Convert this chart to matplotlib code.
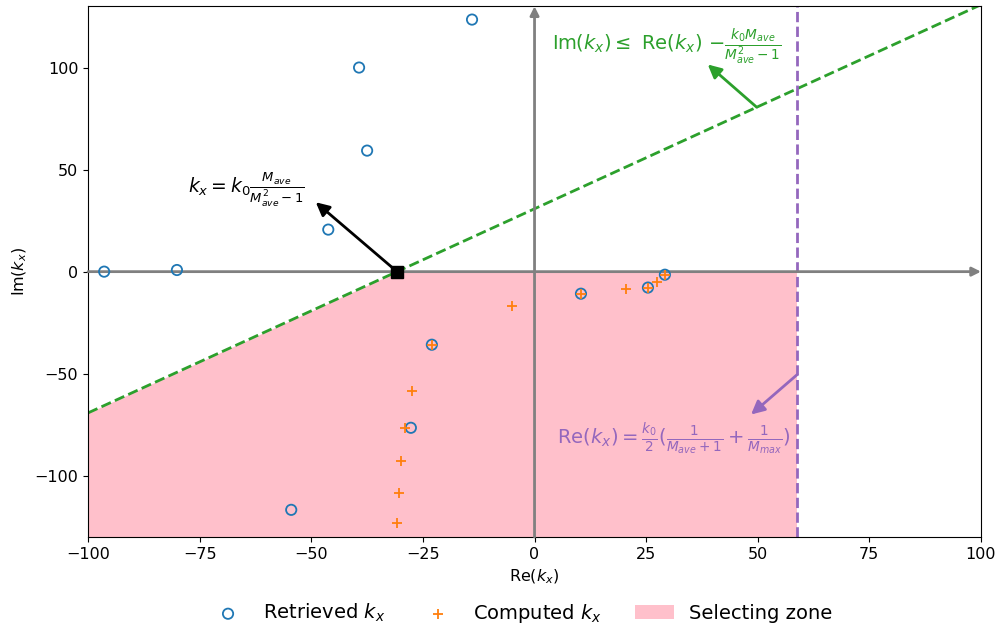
import matplotlib
matplotlib.use("Agg")
import matplotlib.pyplot as plt
import numpy as np

# retrieved kx (circles)
ret_re = [-96.4, -80.1, -46.2, -37.5, -39.3, -14.0, -54.5, -27.7, -23.0, 10.4, 25.4, 29.2]
ret_im = [0.0, 0.8, 20.6, 59.3, 100.0, 123.5, -116.7, -76.5, -35.8, -10.8, -7.8, -1.5]
# computed kx (pluses)
comp_re = [-23.0, -5.0, 10.4, 20.5, 25.4, 27.4, 29.2, -27.4, -29.0, -29.9, -30.3, -30.8]
comp_im = [-35.8, -16.7, -10.8, -8.3, -7.8, -4.9, -1.5, -58.3, -76.5, -92.6, -108.3, -123.0]

k_pole = -30.8      # k0*Mave/(Mave^2-1)
re_limit = 58.8     # k0/2*(1/(Mave+1)+1/Mmax)
xlim = (-100, 100)
ylim = (-130, 130)
xticks = [-100, -75, -50, -25, 0, 25, 50, 75, 100]
yticks = [-100, -50, 0, 50, 100]

fig = plt.figure(figsize=(10.01, 6.31), dpi=100)
ax = fig.add_axes([0.088, 0.149, 0.892, 0.841])

# selecting zone
xa = np.array([xlim[0], k_pole])
ax.fill_between(xa, ylim[0], xa - k_pole, color='pink', lw=0, label='Selecting zone')
xb = np.array([k_pole, re_limit])
ax.fill_between(xb, ylim[0], 0, color='pink', lw=0)

# axes arrows
ax.annotate('', xy=(xlim[1], 0), xytext=(xlim[0], 0),
            arrowprops=dict(arrowstyle='-|>', color='gray', lw=2, mutation_scale=13,
                            shrinkA=0, shrinkB=0))
ax.annotate('', xy=(0, ylim[1]), xytext=(0, ylim[0]),
            arrowprops=dict(arrowstyle='-|>', color='gray', lw=2, mutation_scale=13,
                            shrinkA=0, shrinkB=0))

# boundary lines
xl = np.array(xlim)
ax.plot(xl, xl - k_pole, '--', color='tab:green', lw=2)
ax.axvline(re_limit, ls='--', color='tab:purple', lw=2)

ax.scatter(ret_re, ret_im, s=55, facecolors='none', edgecolors='tab:blue', lw=1.3,
           label=r'Retrieved $k_x$', zorder=4)
ax.scatter(comp_re, comp_im, s=60, marker='+', color='tab:orange', lw=1.3,
           label=r'Computed $k_x$', zorder=5)

ax.plot([k_pole], [0], 's', color='black', ms=8, zorder=6)

# annotations
ax.annotate('', xy=(-49, 34), xytext=(k_pole, 0),
            arrowprops=dict(arrowstyle='-|>', color='black', lw=2, mutation_scale=20,
                            shrinkA=0, shrinkB=0))
ax.text(-77.6, 40, r'$k_x=k_0\frac{M_{ave}}{M_{ave}^2-1}$', fontsize=13.5,
        ha='left', va='center')

ax.annotate('', xy=(38.8, 101.5), xytext=(49.8, 80.5),
            arrowprops=dict(arrowstyle='-|>', color='tab:green', lw=2, mutation_scale=20,
                            shrinkA=0, shrinkB=0))
ax.text(3.9, 110.5, r'Im($k_x$)$\leq$ Re($k_x$) $-\frac{k_0M_{ave}}{M_{ave}^2-1}$',
        fontsize=14, color='tab:green', ha='left', va='center')

ax.annotate('', xy=(48.5, -70), xytext=(re_limit, -50.5),
            arrowprops=dict(arrowstyle='-|>', color='tab:purple', lw=2, mutation_scale=20,
                            shrinkA=0, shrinkB=0))
ax.text(5.0, -81.3, r'Re($k_x$)$=\frac{k_0}{2}(\frac{1}{M_{ave}+1}+\frac{1}{M_{max}})$',
        fontsize=14, color='tab:purple', ha='left', va='center')

ax.set_xlim(xlim)
ax.set_ylim(ylim)
ax.set_xticks(xticks)
ax.set_yticks(yticks)
ax.tick_params(labelsize=11.5)
ax.set_xlabel(r'Re($k_x$)', fontsize=11.5)
ax.set_ylabel(r'Im($k_x$)', fontsize=11.5)

h, l = ax.get_legend_handles_labels()
order = [l.index(r'Retrieved $k_x$'), l.index(r'Computed $k_x$'), l.index('Selecting zone')]
fig.legend([h[i] for i in order], [l[i] for i in order], loc='center',
           bbox_to_anchor=(0.520, 0.028), ncol=3, frameon=False, fontsize=14,
           columnspacing=1.7)

fig.savefig('out.png', dpi=100)
